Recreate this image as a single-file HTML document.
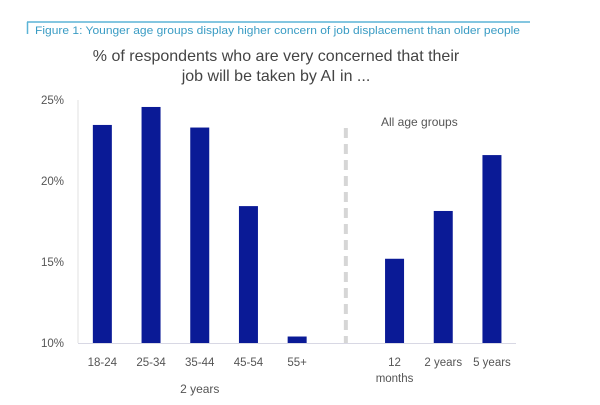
<!DOCTYPE html>
<html><head><meta charset="utf-8"><style>
body{margin:0;background:#fff;}
svg{display:block;font-family:"Liberation Sans",sans-serif;}
</style></head><body>
<svg width="600" height="405">
<line x1="27" y1="22" x2="530" y2="22" stroke="#5bb4d6" stroke-width="1.5"/>
<line x1="27.5" y1="22" x2="27.5" y2="34" stroke="#5bb4d6" stroke-width="1.5"/>
<text x="35" y="34" font-size="11" fill="#3a9cc4" textLength="485" lengthAdjust="spacingAndGlyphs">Figure 1: Younger age groups display higher concern of job displacement than older people</text>
<text x="276" y="61" font-size="16" fill="#444" text-anchor="middle">% of respondents who are very concerned that their</text>
<text x="276" y="81" font-size="16" fill="#444" text-anchor="middle">job will be taken by AI in ...</text>
<g id="plot"></g>
</svg>
<script>
const categories=["18-24","25-34","35-44","45-54","55+","","12 months","2 years","5 years"];
const values=[23.46,24.57,23.3,18.45,10.4,null,15.2,18.15,21.6];
const ticks=[10,15,20,25];
const tickLabels=["10%","15%","20%","25%"];
const NS="http://www.w3.org/2000/svg";
const g=document.getElementById('plot');
const x0=78,slot=48.7,bw=19;
function y(v){return 343-(v-10)*16.2;}
function xc(i){return x0+slot*(i+0.5);}
function mk(t,a,txt){const e=document.createElementNS(NS,t);for(const k in a)e.setAttribute(k,a[k]);if(txt!=null)e.textContent=txt;g.appendChild(e);return e;}
ticks.forEach((t,i)=>{const e=mk('text',{x:64,y:y(t)+4,'font-size':11.5,fill:'#555','text-anchor':'end'},tickLabels[i]);

});
let ax=mk('line',{x1:78,y1:100,x2:78,y2:343,stroke:'#e2e2e2','stroke-width':1});


let bx=mk('line',{x1:78,y1:343.5,x2:516,y2:343.5,stroke:'#d8d8e4','stroke-width':1});


let dv=mk('line',{x1:xc(5),y1:128,x2:xc(5),y2:343,stroke:'#d6d6d6','stroke-width':4,'stroke-dasharray':'10,6'});


values.forEach((v,i)=>{if(v==null)return;
const r=mk('rect',{x:xc(i)-bw/2,y:y(v),width:bw,height:343-y(v),fill:'#0a1a96'});

});
categories.forEach((c,i)=>{if(!c)return;
if(c==="12 months"){
const a=mk('text',{x:xc(i),y:366,'font-size':11.5,fill:'#555','text-anchor':'middle'},"12");


const b=mk('text',{x:xc(i),y:382,'font-size':11.5,fill:'#555','text-anchor':'middle'},"months");

return;}
const t=mk('text',{x:xc(i),y:366,'font-size':11.5,fill:'#555','text-anchor':'middle'},c);

});
let gl=mk('text',{x:xc(2),y:393,'font-size':12,fill:'#555','text-anchor':'middle'},"2 years");


let al=mk('text',{x:381,y:126,'font-size':12,fill:'#555'},"All age groups");


</script>
</body></html>
